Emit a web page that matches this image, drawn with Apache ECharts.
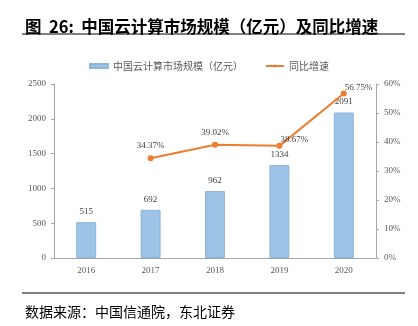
<!DOCTYPE html>
<html><head><meta charset="utf-8">
<script src="https://cdn.jsdelivr.net/npm/echarts@6/dist/echarts.min.js"></script>
<style>html,body{margin:0;padding:0;background:#fff}#c{width:418px;height:326px}</style>
</head><body><div id="c"></div>
<script>
const categories = ['2016','2017','2018','2019','2020'];
const marketSize = [515, 692, 962, 1334, 2091];
const growth = [null, 34.37, 39.02, 38.67, 56.75];
const leftTicks = [0, 500, 1000, 1500, 2000, 2500];
const rightTicks = [0, 10, 20, 30, 40, 50, 60];

const serif = '"Liberation Serif","Noto Sans CJK SC",serif';
const cjk = '"Noto Sans CJK SC",sans-serif';
const chart = echarts.init(document.getElementById('c'), null, {renderer:'canvas'});
const growthLabelPos = ['top','top','top','right','right'];
chart.setOption({
  animation:false,
  title:[
    {text:'图  26:  中国云计算市场规模（亿元）及同比增速', left:20, top:13,
     textStyle:{fontFamily:cjk, fontSize:16.5, fontWeight:'bold', color:'#000'}},
    {text:'数据来源：中国信通院，东北证券', left:20, top:300,
     textStyle:{fontFamily:cjk, fontSize:14, fontWeight:'normal', color:'#000'}}
  ],
  graphic:[
    {type:'line', shape:{x1:22,y1:34,x2:405,y2:34}, style:{stroke:'#000',lineWidth:1}},
    {type:'line', shape:{x1:22,y1:293,x2:405,y2:293}, style:{stroke:'#000',lineWidth:1}}
  ],
  legend:{
    top:56, left:'center', itemGap:22, itemWidth:18, itemHeight:4,
    textStyle:{fontFamily:cjk, fontSize:10, color:'#595959'},
    data:[{name:'中国云计算市场规模（亿元）', icon:'rect'},{name:'同比增速'}]
  },
  grid:{left:54, right:42, top:84, bottom:68},
  xAxis:{type:'category', data:categories,
    axisLine:{lineStyle:{color:'#a6a6a6'}}, axisTick:{show:false},
    axisLabel:{fontFamily:serif, fontSize:9, color:'#595959', margin:8}},
  yAxis:[
    {type:'value', min:0, max:2500, interval:500, splitLine:{show:false},
     axisLine:{show:true, lineStyle:{color:'#a6a6a6'}},
     axisTick:{show:true, length:3, lineStyle:{color:'#a6a6a6'}},
     axisLabel:{fontFamily:serif, fontSize:9, color:'#595959', margin:8, formatter:v=>String(v)}},
    {type:'value', min:0, max:60, interval:10, splitLine:{show:false},
     axisLine:{show:true, lineStyle:{color:'#a6a6a6'}},
     axisTick:{show:true, length:3, lineStyle:{color:'#a6a6a6'}},
     axisLabel:{fontFamily:serif, fontSize:9, color:'#595959', margin:8, formatter:'{value}%'}}
  ],
  series:[
    {name:'中国云计算市场规模（亿元）', type:'bar', data:marketSize, barWidth:'31%',
     itemStyle:{color:'#9dc3e6', borderColor:'#8eb4d8', borderWidth:1},
     label:{show:true, position:'top', distance:6, fontFamily:serif, fontSize:9, color:'#404040'}},
    {name:'同比增速', type:'line', yAxisIndex:1, symbol:'circle', symbolSize:6,
     data:growth.map((v,i)=>({value:v, label:{position:growthLabelPos[i], distance: growthLabelPos[i]==='right'?-2:5, offset: growthLabelPos[i]==='right'?[0,-6]:[0,0]}})),
     lineStyle:{color:'#ed7d31', width:2}, itemStyle:{color:'#ed7d31'},
     label:{show:true, fontFamily:serif, fontSize:9, color:'#404040', formatter:p=>p.value.toFixed(2)+'%'}}
  ]
});
</script></body></html>
